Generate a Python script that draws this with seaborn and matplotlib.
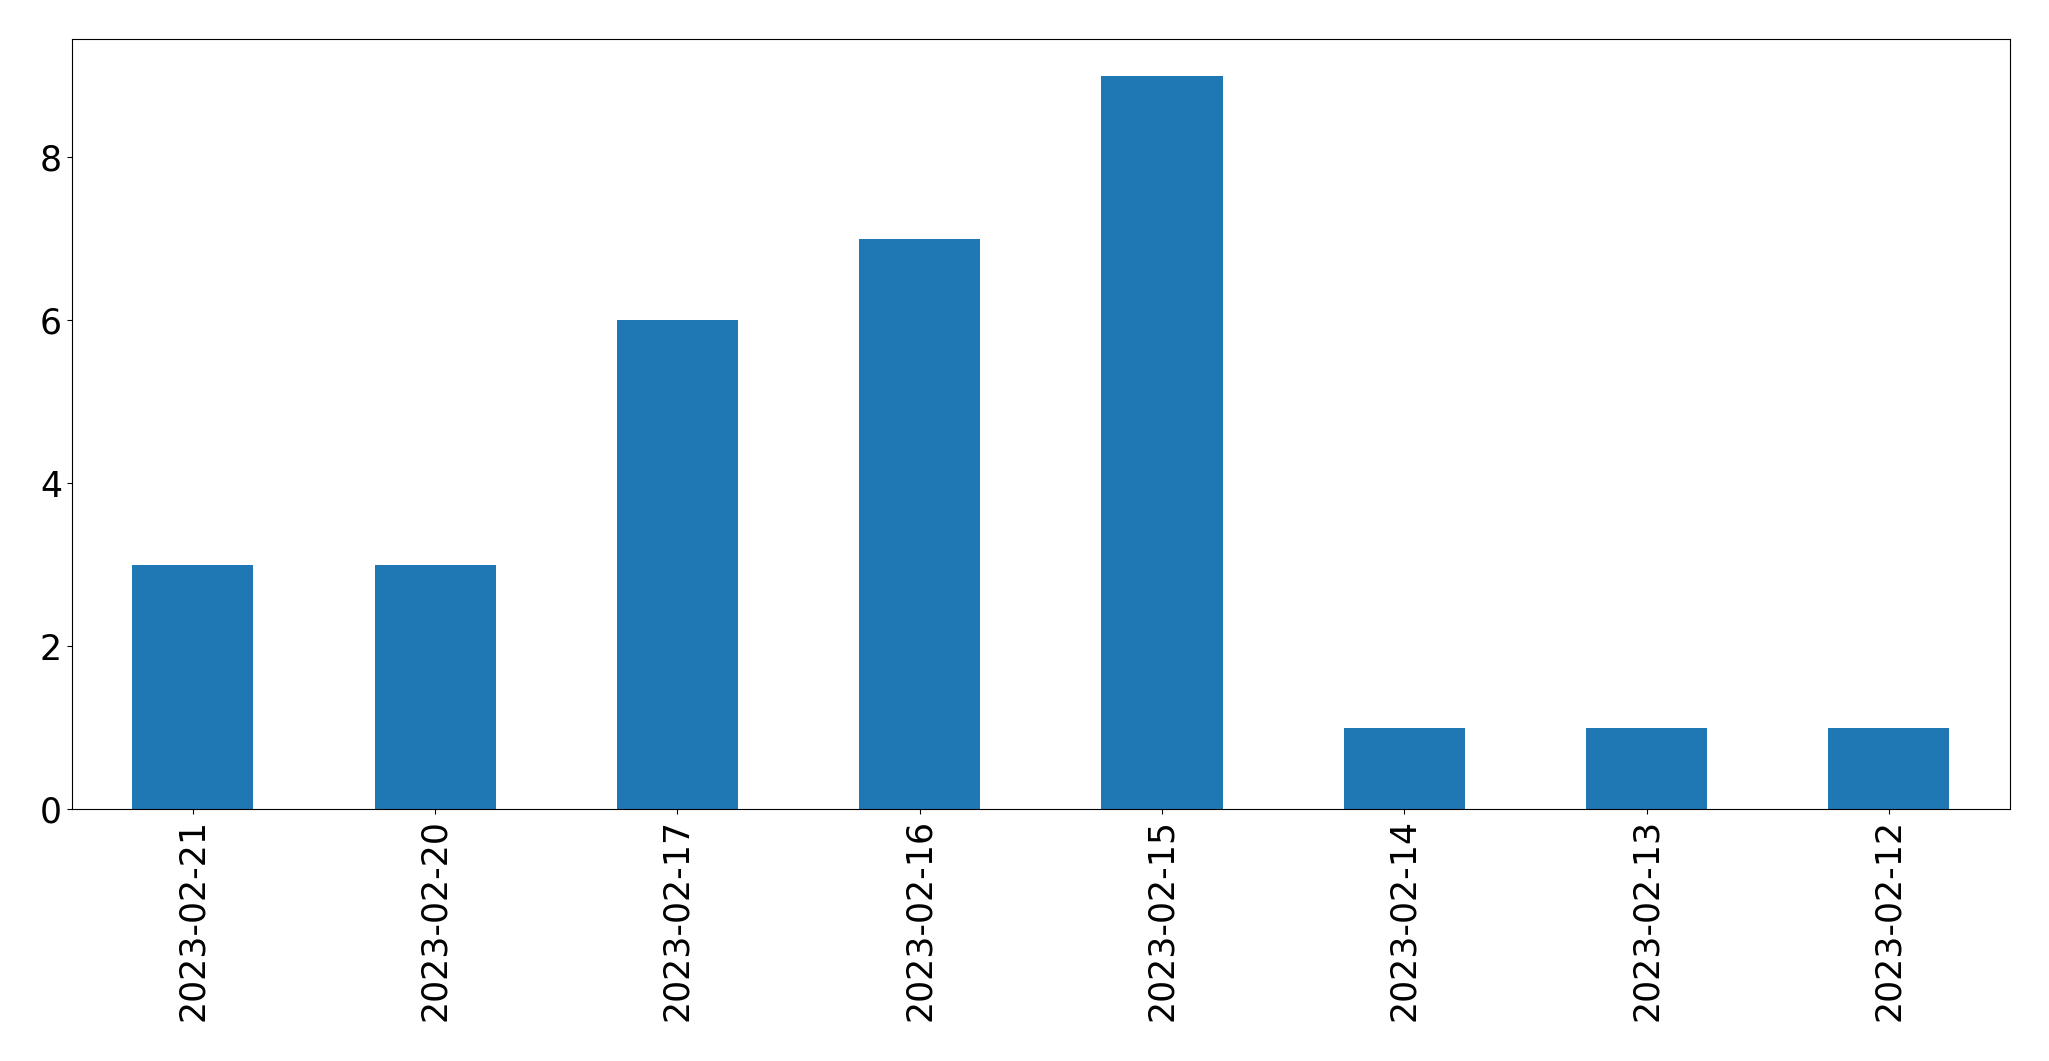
import matplotlib
matplotlib.use('Agg')
import matplotlib.pyplot as plt
import seaborn as sns
import pandas as pd

dates = ['2023-02-21', '2023-02-20', '2023-02-17', '2023-02-16',
         '2023-02-15', '2023-02-14', '2023-02-13', '2023-02-12']
counts = [3, 3, 6, 7, 9, 1, 1, 1]

df = pd.DataFrame({'date': dates, 'count': counts})

fig, ax = plt.subplots(figsize=(20.49, 10.61), dpi=100)
fig.subplots_adjust(left=0.035, right=0.981, top=0.963, bottom=0.2375)

sns.barplot(data=df, x='date', y='count', order=dates, color='#1f77b4',
            saturation=1, width=0.5, ax=ax)

ax.set_xlim(-0.5, len(dates) - 0.5)
ax.set_ylim(0, max(counts) * 1.05)
ax.set_yticks([0, 2, 4, 6, 8])
ax.set_xlabel('')
ax.set_ylabel('')
ax.tick_params(axis='x', labelsize=25, rotation=90)
ax.tick_params(axis='y', labelsize=25)

fig.savefig('out.png', dpi=100)
